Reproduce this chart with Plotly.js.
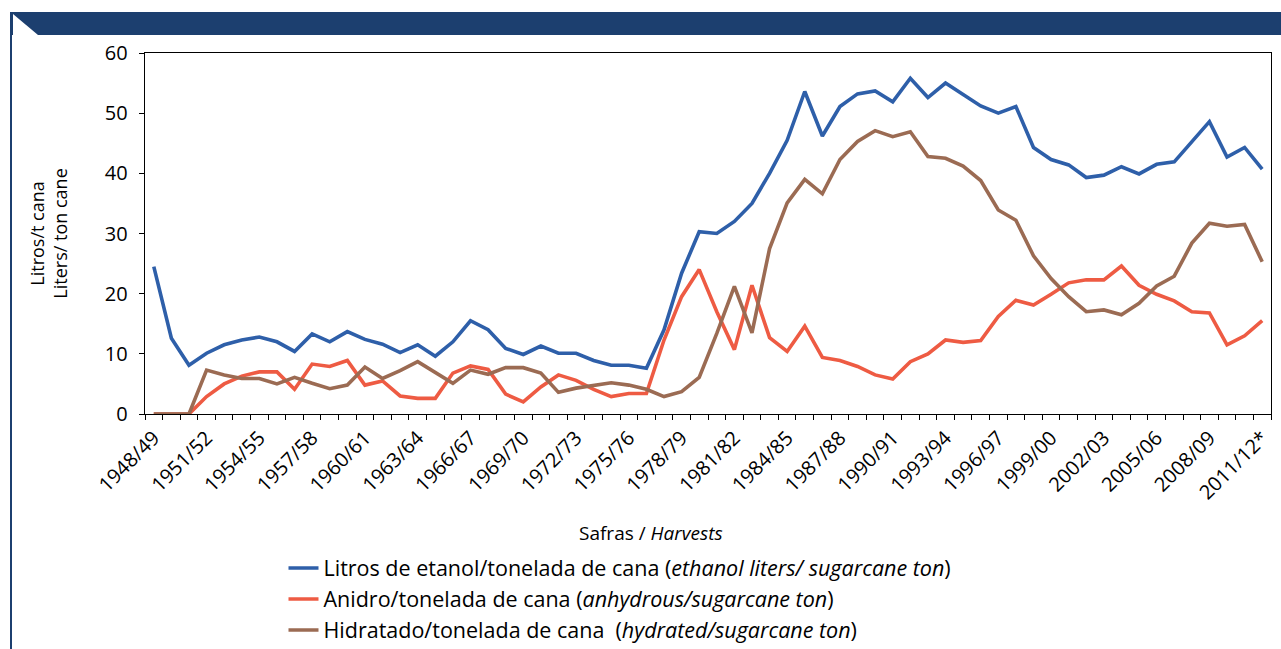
<!DOCTYPE html>
<html>
<head>
<meta charset="utf-8">
<script src="https://cdn.plot.ly/plotly-3.0.1.min.js"></script>
<style>
  html, body { margin: 0; padding: 0; background: #ffffff; }
  #wrap { position: relative; width: 1281px; height: 649px; overflow: hidden; }
  #band { position: absolute; left: 10px; top: 12px; width: 1271px; height: 23px; background: #1c3f6f; }
  #notch { position: absolute; left: 13px; top: 14px; width: 25px; height: 21px; background: #ffffff;
           clip-path: polygon(0 0, 100% 100%, 0 100%); }
  #edge { position: absolute; left: 10px; top: 12px; width: 2px; height: 637px; background: #1c3f6f; }
  #chart { position: absolute; left: 0; top: 0; width: 1281px; height: 649px; }
</style>
</head>
<body>
<div id="wrap">
  <div id="band"></div>
  <div id="notch"></div>
  <div id="edge"></div>
  <div id="chart"></div>
</div>
<script>
const harvests = [
  '1948/49','1949/50','1950/51','1951/52','1952/53','1953/54','1954/55','1955/56',
  '1956/57','1957/58','1958/59','1959/60','1960/61','1961/62','1962/63','1963/64',
  '1964/65','1965/66','1966/67','1967/68','1968/69','1969/70','1970/71','1971/72',
  '1972/73','1973/74','1974/75','1975/76','1976/77','1977/78','1978/79','1979/80',
  '1980/81','1981/82','1982/83','1983/84','1984/85','1985/86','1986/87','1987/88',
  '1988/89','1989/90','1990/91','1991/92','1992/93','1993/94','1994/95','1995/96',
  '1996/97','1997/98','1998/99','1999/00','2000/01','2001/02','2002/03','2003/04',
  '2004/05','2005/06','2006/07','2007/08','2008/09','2009/10','2010/11','2011/12*'
];

const labeledHarvests = [
  '1948/49','1951/52','1954/55','1957/58','1960/61','1963/64','1966/67','1969/70',
  '1972/73','1975/76','1978/79','1981/82','1984/85','1987/88','1990/91','1993/94',
  '1996/97','1999/00','2002/03','2005/06','2008/09','2011/12*'
];

const ethanolTotal = [
  24.5, 12.6, 8.1, 10.1, 11.5, 12.3, 12.8, 12.0,
  10.4, 13.3, 12.0, 13.7, 12.4, 11.6, 10.2, 11.5,
  9.6, 12.0, 15.5, 14.0, 10.9, 9.9, 11.3, 10.1,
  10.1, 8.9, 8.1, 8.1, 7.6, 14.0, 23.4, 30.3,
  30.0, 32.0, 35.0, 40.0, 45.5, 53.6, 46.2, 51.1,
  53.2, 53.7, 51.9, 55.8, 52.6, 55.0, 53.1, 51.2,
  50.0, 51.1, 44.3, 42.3, 41.4, 39.3, 39.7, 41.1,
  39.9, 41.5, 41.9, 45.3, 48.6, 42.7, 44.3, 40.7
];

const anhydrous = [
  0, 0, 0, 2.9, 5.0, 6.3, 7.0, 7.0,
  4.1, 8.3, 7.9, 8.9, 4.8, 5.5, 3.0, 2.6,
  2.6, 6.8, 8.0, 7.4, 3.3, 2.0, 4.5, 6.5,
  5.6, 4.1, 2.9, 3.4, 3.4, 12.3, 19.5, 24.0,
  17.0, 10.7, 21.4, 12.7, 10.4, 14.6, 9.4, 8.9,
  7.9, 6.5, 5.8, 8.7, 10.0, 12.3, 11.9, 12.2,
  16.2, 18.9, 18.1, 19.9, 21.8, 22.3, 22.3, 24.6,
  21.4, 19.9, 18.8, 17.0, 16.8, 11.5, 13.0, 15.5
];

const hydrated = [
  0, 0, 0, 7.3, 6.5, 5.9, 5.9, 5.0,
  6.1, 5.1, 4.2, 4.8, 7.8, 5.9, 7.2, 8.7,
  6.9, 5.1, 7.3, 6.6, 7.7, 7.7, 6.8, 3.6,
  4.3, 4.8, 5.2, 4.8, 4.1, 2.9, 3.7, 6.1,
  13.4, 21.2, 13.5, 27.5, 35.1, 39.0, 36.6, 42.3,
  45.3, 47.1, 46.1, 46.9, 42.8, 42.5, 41.2, 38.8,
  33.9, 32.2, 26.3, 22.5, 19.5, 17.0, 17.3, 16.5,
  18.4, 21.3, 22.9, 28.4, 31.7, 31.2, 31.5, 25.3
];

const seriesNames = [
  'Litros de etanol/tonelada de cana (<i>ethanol liters/ sugarcane ton</i>)',
  'Anidro/tonelada de cana (<i>anhydrous/sugarcane ton</i>)',
  'Hidratado/tonelada de cana  (<i>hydrated/sugarcane ton</i>)'
];
const seriesColors = ['#2e5fa9', '#ee5b43', '#9b6b53'];
const seriesValues = [ethanolTotal, anhydrous, hydrated];

const FONT = '"Open Sans", "Noto Sans", sans-serif';

const traces = seriesValues.map((vals, k) => ({
  type: 'scatter',
  mode: 'lines',
  x: harvests,
  y: vals,
  name: seriesNames[k],
  line: { color: seriesColors[k], width: 3.6 },
  hoverinfo: 'x+y'
}));

const tickText = harvests.map(h => labeledHarvests.includes(h) ? h : '');

const layout = {
  width: 1281,
  height: 649,
  margin: { l: 145, r: 10, t: 53, b: 235, pad: 0, autoexpand: false },
  paper_bgcolor: 'rgba(0,0,0,0)',
  plot_bgcolor: '#ffffff',
  font: { family: FONT, size: 17, color: '#000000' },
  showlegend: true,
  legend: {
    orientation: 'v',
    x: 0.123, xanchor: 'left',
    y: -0.37, yanchor: 'top',
    font: { family: FONT, size: 21.5, color: '#000000' },
    tracegroupgap: 0,
    bgcolor: 'rgba(0,0,0,0)'
  },
  xaxis: {
    type: 'category',
    categoryorder: 'array',
    categoryarray: harvests,
    range: [-0.5, 63.5],
    tickmode: 'array',
    tickvals: harvests,
    ticktext: tickText,
    tickson: 'boundaries',
    ticks: 'outside',
    ticklen: 5,
    tickcolor: '#000000',
    tickangle: -45,
    ticklabelstandoff: 3,
    tickfont: { family: FONT, size: 20, color: '#000000' },
    showline: true,
    linecolor: '#000000',
    linewidth: 1.3,
    mirror: true,
    showgrid: false,
    zeroline: false
  },
  yaxis: {
    range: [0, 60],
    tick0: 0,
    dtick: 10,
    ticks: 'outside',
    ticklen: 5,
    tickcolor: '#000000',
    ticklabelstandoff: 7,
    tickfont: { family: FONT, size: 20, color: '#000000' },
    showline: true,
    linecolor: '#000000',
    linewidth: 1.3,
    mirror: true,
    showgrid: false,
    zeroline: false
  },
  annotations: [
    {
      text: 'Litros/t cana<br>Liters/ ton cane',
      xref: 'paper', yref: 'paper',
      x: -0.086, y: 0.5,
      xanchor: 'center', yanchor: 'middle',
      textangle: -90,
      showarrow: false,
      font: { family: FONT, size: 18, color: '#000000' }
    },
    {
      text: 'Safras / <i>Harvests</i>',
      xref: 'paper', yref: 'paper',
      x: 0.449, y: -0.33,
      xanchor: 'center', yanchor: 'middle',
      showarrow: false,
      font: { family: FONT, size: 19, color: '#000000' }
    }
  ]
};

Plotly.newPlot('chart', traces, layout, { displayModeBar: false, staticPlot: true });
</script>
</body>
</html>
